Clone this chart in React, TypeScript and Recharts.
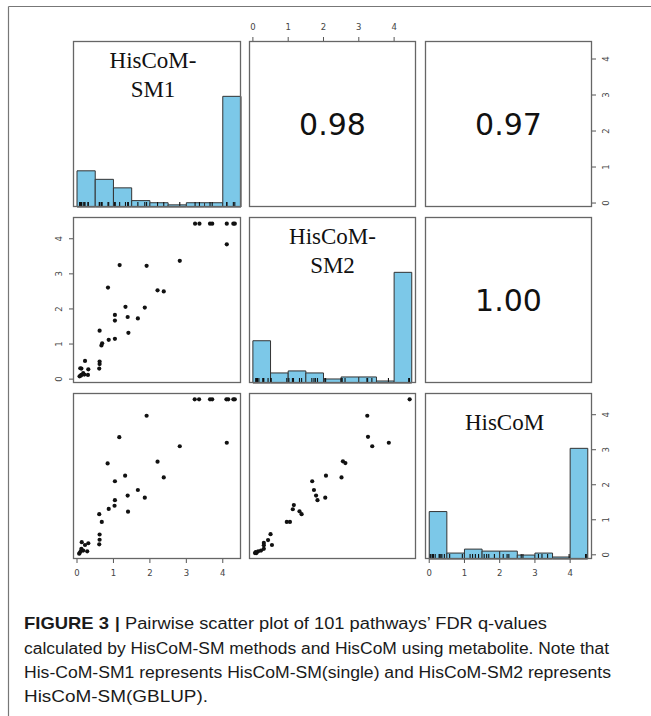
import React from 'react';
import { ComposedChart, Scatter, XAxis, YAxis, ReferenceArea } from 'recharts';

// variable names (diagonal) and the upper-panel correlations
const titleLines = [['HisCoM-', 'SM1'], ['HisCoM-', 'SM2'], ['HisCoM']];
const corr12 = '0.98';
const corr13 = '0.97';
const corr23 = '1.00';

const axisTicks = [0, 1, 2, 3, 4];

// histogram bins (width 0.5) and counts
const binEdges = [0, 0.5, 1, 1.5, 2, 2.5, 3, 3.5, 4, 4.5];
const sm1Counts = [17, 13, 9, 3, 2, 1, 2, 2, 52];
const sm2Counts = [21, 5, 6, 5, 2, 3, 3, 1, 55];
const hiscomCounts = [24, 3, 5, 4, 4, 2, 3, 1, 56];

// row 2, col 1 : SM1 (x) vs SM2 (y)
const sm1VsSm2X = [3.24, 3.36, 3.65, 3.71, 4.11, 4.29, 4.33, 4.11, 2.82, 1.91, 1.17, 2.21, 2.38, 0.85, 1.33, 1.86, 1.04, 1.04, 1.39, 1.67, 1.41, 0.62, 0.87, 1.04, 0.69, 0.67, 0.62, 0.62, 0.61, 0.22, 0.09, 0.12, 0.31, 0.17, 0.12, 0.07, 0.3, 0.2, 0.1];
const sm1VsSm2Y = [4.43, 4.43, 4.43, 4.43, 4.43, 4.43, 4.43, 3.84, 3.37, 3.23, 3.25, 2.53, 2.5, 2.61, 2.06, 2.04, 1.83, 1.67, 1.77, 1.73, 1.32, 1.38, 1.12, 1.15, 1.02, 0.96, 0.5, 0.43, 0.3, 0.52, 0.31, 0.3, 0.28, 0.17, 0.12, 0.08, 0.12, 0.13, 0.1];

// row 3, col 1 : SM1 (x) vs HisCoM (y)
const sm1VsHiscomX = [3.23, 3.35, 3.65, 3.71, 4.1, 4.15, 4.29, 4.33, 4.11, 1.91, 1.16, 2.82, 0.84, 2.21, 2.38, 1.32, 1.04, 1.67, 1.39, 1.86, 1.04, 1.03, 0.87, 1.4, 0.61, 0.68, 0.62, 0.62, 0.61, 0.13, 0.31, 0.22, 0.28, 0.12, 0.07, 0.06, 0.17, 0.1];
const sm1VsHiscomY = [4.44, 4.44, 4.44, 4.44, 4.44, 4.44, 4.44, 4.44, 3.2, 3.97, 3.36, 3.1, 2.61, 2.66, 2.21, 2.26, 2.1, 1.85, 1.69, 1.63, 1.56, 1.4, 1.31, 1.23, 1.16, 0.94, 0.58, 0.43, 0.3, 0.36, 0.33, 0.28, 0.1, 0.17, 0.05, 0.03, 0.12, 0.1];

// row 3, col 2 : SM2 (x) vs HisCoM (y)
const sm2VsHiscomX = [4.44, 3.24, 3.26, 3.38, 3.85, 2.55, 2.62, 2.07, 2.51, 1.68, 1.73, 1.79, 1.83, 2.05, 1.16, 1.13, 1.32, 1.38, 0.96, 1.05, 0.5, 0.43, 0.31, 0.31, 0.54, 0.31, 0.23, 0.15, 0.1, 0.06, 0.08];
const sm2VsHiscomY = [4.44, 3.97, 3.37, 3.1, 3.2, 2.67, 2.62, 2.26, 2.21, 2.1, 1.85, 1.69, 1.56, 1.63, 1.42, 1.3, 1.24, 1.16, 0.94, 0.94, 0.59, 0.42, 0.34, 0.27, 0.28, 0.17, 0.12, 0.1, 0.05, 0.05, 0.08];

// axis ranges per variable (data range + 4%)
const sm1Domain = [-0.11, 4.5];
const sm2Domain = [-0.11, 4.62];
const hiscomDomain = [-0.12, 4.62];

const colLeft = [73, 249, 425];
const colWidth = [168, 167, 167];
const rowTop = [41, 217, 393];
const rowHeight = 166;
const M = 30;
const AX = 20; // space given to a visible axis

const histFill = '#7cc8e8';
const boxStroke = '#666';
const tickColor = '#444';

const toPoints = (xs: number[], ys: number[]) => xs.map((x, i) => ({ x, y: ys[i] }));
const toRug = (xs: number[]) => xs.map((x) => ({ x, y: 0 }));

const XTick = (props: any) => (
  <text x={props.x} y={props.y} textAnchor="middle" dominantBaseline="central" fontSize={8.5} fill={tickColor} fontFamily="DejaVu Sans">
    {props.payload.value}
  </text>
);

const YTick = (props: any) => (
  <text
    x={props.x}
    y={props.y}
    textAnchor="middle"
    dominantBaseline="central"
    fontSize={8.5}
    fill={tickColor}
    fontFamily="DejaVu Sans"
    transform={`rotate(-90 ${props.x} ${props.y})`}
  >
    {props.payload.value}
  </text>
);

const Dot = (props: any) => <circle cx={props.cx} cy={props.cy} r={2.1} fill="#111" />;
const RugTick = (props: any) => (
  <line x1={props.cx} x2={props.cx} y1={props.cy} y2={props.cy - 5} stroke="#111" strokeWidth={1.1} />
);

type PanelProps = {
  row: number;
  col: number;
  xDomain: number[];
  yDomain: number[];
  xAxis?: 'top' | 'bottom';
  yAxis?: 'left' | 'right';
  points?: { x: number; y: number }[];
  counts?: number[];
  rug?: number[];
};

const Panel = ({ row, col, xDomain, yDomain, xAxis, yAxis, points, counts, rug }: PanelProps) => {
  const w = colWidth[col];
  const h = rowHeight;
  const maxCount = counts ? Math.max(...counts) : 1;
  const margin = {
    top: xAxis === 'top' ? M - AX : M,
    bottom: xAxis === 'bottom' ? M - AX : M,
    left: yAxis === 'left' ? M - AX : M,
    right: yAxis === 'right' ? M - AX : M,
  };
  return (
    <div style={{ position: 'absolute', left: colLeft[col] - M, top: rowTop[row] - M }}>
      <ComposedChart width={w + 2 * M} height={h + 2 * M} margin={margin}>
        <XAxis
          type="number"
          dataKey="x"
          domain={xDomain}
          allowDataOverflow
          ticks={axisTicks}
          hide={!xAxis}
          orientation={xAxis || 'bottom'}
          height={AX}
          axisLine={false}
          tickLine={{ stroke: '#555' }}
          tickSize={4}
          tickMargin={10}
          tick={<XTick />}
        />
        <YAxis
          yAxisId="v"
          type="number"
          dataKey="y"
          domain={yDomain}
          allowDataOverflow
          ticks={axisTicks}
          hide={!yAxis}
          orientation={yAxis || 'left'}
          width={AX}
          axisLine={false}
          tickLine={{ stroke: '#555' }}
          tickSize={4}
          tickMargin={10}
          tick={<YTick />}
        />
        {/* histogram scale: tallest bar = 1 of 1.5 */}
        <YAxis
          yAxisId="h"
          type="number"
          dataKey="y"
          domain={[0, 1.5]}
          allowDataOverflow
          hide
          width={0}
          orientation={yAxis === 'left' ? 'right' : 'left'}
        />
        {counts &&
          counts.map((c, i) => (
            <ReferenceArea
              key={i}
              yAxisId="h"
              x1={binEdges[i]}
              x2={binEdges[i + 1]}
              y1={0}
              y2={c / maxCount}
              fill={histFill}
              fillOpacity={1}
              stroke="#333"
              strokeWidth={1}
              ifOverflow="visible"
            />
          ))}
        {rug && (
          <Scatter yAxisId="h" data={toRug(rug)} shape={<RugTick />} isAnimationActive={false} />
        )}
        {points && (
          <Scatter yAxisId="v" data={points} shape={<Dot />} isAnimationActive={false} />
        )}
      </ComposedChart>
    </div>
  );
};

const captionFont = '"Liberation Sans", Arial, sans-serif';

export default function App() {
  const boxes = [];
  for (let r = 0; r < 3; r++) {
    for (let c = 0; c < 3; c++) {
      boxes.push(
        <rect key={`${r}-${c}`} x={colLeft[c] + 0.5} y={rowTop[r] + 0.5} width={colWidth[c] - 1} height={rowHeight - 1} fill="none" stroke={boxStroke} strokeWidth={1.3} />
      );
    }
  }
  const centerX = (c: number) => colLeft[c] + colWidth[c] / 2;
  const centerY = (r: number) => rowTop[r] + rowHeight / 2;

  return (
    <div style={{ position: 'absolute', left: 0, top: 0, width: 651, height: 716, background: '#fff', overflow: 'hidden' }}>
      {/* diagonal: histograms */}
      <Panel row={0} col={0} xDomain={sm1Domain} yDomain={sm1Domain} counts={sm1Counts} rug={sm1VsSm2X} />
      <Panel row={1} col={1} xDomain={sm2Domain} yDomain={sm2Domain} counts={sm2Counts} rug={sm1VsSm2Y} />
      <Panel row={2} col={2} xDomain={hiscomDomain} yDomain={hiscomDomain} counts={hiscomCounts} rug={sm1VsHiscomY} xAxis="bottom" yAxis="right" />
      {/* upper: correlation panels (axes only) */}
      <Panel row={0} col={1} xDomain={sm2Domain} yDomain={sm1Domain} xAxis="top" />
      <Panel row={0} col={2} xDomain={hiscomDomain} yDomain={sm1Domain} yAxis="right" />
      <Panel row={1} col={2} xDomain={hiscomDomain} yDomain={sm2Domain} />
      {/* lower: scatter plots */}
      <Panel row={1} col={0} xDomain={sm1Domain} yDomain={sm2Domain} points={toPoints(sm1VsSm2X, sm1VsSm2Y)} yAxis="left" />
      <Panel row={2} col={0} xDomain={sm1Domain} yDomain={hiscomDomain} points={toPoints(sm1VsHiscomX, sm1VsHiscomY)} xAxis="bottom" />
      <Panel row={2} col={1} xDomain={sm2Domain} yDomain={hiscomDomain} points={toPoints(sm2VsHiscomX, sm2VsHiscomY)} />

      <svg width={651} height={716} style={{ position: 'absolute', left: 0, top: 0, pointerEvents: 'none' }}>
        <line x1={8.5} y1={6.5} x2={651} y2={6.5} stroke="#777" strokeWidth={1.2} />
        <line x1={8.5} y1={6.5} x2={8.5} y2={716} stroke="#777" strokeWidth={1.2} />
        {boxes}

        {/* diagonal titles */}
        {titleLines.map((lines, i) =>
          lines.map((t, j) => (
            <text
              key={`${i}-${j}`}
              x={centerX(i) - (i === 1 ? 0 : 4)}
              y={rowTop[i] + (lines.length === 1 ? 37 : 27 + j * 29)}
              textAnchor="middle"
              fontSize={23}
              fontFamily='"Liberation Serif", "Times New Roman", serif'
              fill="#111"
            >
              {t}
            </text>
          ))
        )}

        {/* correlations */}
        {[
          [0, 1, corr12],
          [0, 2, corr13],
          [1, 2, corr23],
        ].map(([r, c, v]) => (
          <text key={`c${r}${c}`} x={centerX(c as number)} y={centerY(r as number)} textAnchor="middle" dominantBaseline="central" fontSize={30} fontFamily="DejaVu Sans" fill="#111">
            {v}
          </text>
        ))}

        {/* caption */}
        <text x={24} y={629} fontSize={17} fontWeight="bold" fontFamily={captionFont} fill="#1a1a1a" textLength={85} lengthAdjust="spacingAndGlyphs">
          FIGURE 3
        </text>
        <text x={115} y={629} fontSize={17} fontWeight="bold" fontFamily={captionFont} fill="#1a1a1a">
          |
        </text>
        <text x={125} y={629} fontSize={16} fontFamily={captionFont} fill="#1a1a1a" textLength={422} lengthAdjust="spacingAndGlyphs">
          Pairwise scatter plot of 101 pathways’ FDR q-values
        </text>
        <text x={24} y={653.5} fontSize={16} fontFamily={captionFont} fill="#1a1a1a" textLength={585} lengthAdjust="spacingAndGlyphs">
          calculated by HisCoM-SM methods and HisCoM using metabolite. Note that
        </text>
        <text x={24} y={678} fontSize={16} fontFamily={captionFont} fill="#1a1a1a" textLength={587} lengthAdjust="spacingAndGlyphs">
          His-CoM-SM1 represents HisCoM-SM(single) and HisCoM-SM2 represents
        </text>
        <text x={24} y={702} fontSize={16} fontFamily={captionFont} fill="#1a1a1a" textLength={184} lengthAdjust="spacingAndGlyphs">
          HisCoM-SM(GBLUP).
        </text>
      </svg>
    </div>
  );
}
